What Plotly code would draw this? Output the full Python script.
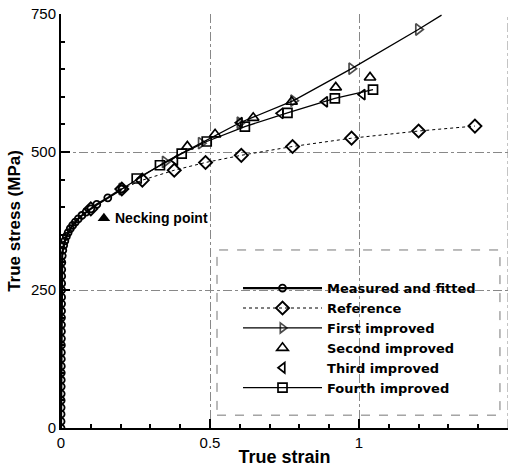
import plotly.graph_objects as go

# ---------------- data ----------------
meas_strain = [0.0, 0.0001, 0.0002, 0.0003, 0.0004, 0.0005, 0.0006, 0.0007, 0.0008,
               0.0009, 0.001, 0.0011, 0.0012, 0.0013, 0.0014, 0.0015, 0.0016, 0.0017,
               0.0018, 0.0019, 0.002, 0.0021, 0.0022, 0.0024, 0.0027, 0.004, 0.006,
               0.009, 0.013, 0.018, 0.024, 0.031, 0.039, 0.048, 0.058, 0.07, 0.084,
               0.1, 0.12, 0.157, 0.204]
meas_stress = [0, 12, 25, 37, 50, 62, 75, 87, 100, 112, 125, 137, 150, 162, 175, 187,
               200, 212, 225, 237, 250, 262, 275, 287, 300, 312, 322, 331, 339, 347,
               354, 361, 367, 373, 379, 385, 391, 397, 405, 417, 433]

ref_strain = [0.1, 0.204, 0.273, 0.38, 0.485, 0.605, 0.777, 0.975, 1.2, 1.389]
ref_stress = [397, 433, 449, 467, 481, 494, 510, 525, 538, 547]

first_strain = [0.204, 0.349, 0.47, 0.6, 0.78, 0.975, 1.199, 1.277]
first_stress = [433, 482, 516, 553, 593, 651, 722, 748]
first_msize = [10, 10, 10, 10, 10, 10, 10, 0]

second_strain = [0.424, 0.517, 0.645, 0.774, 0.922, 1.037]
second_stress = [510, 532, 562, 591, 617, 635]

third_strain = [0.383, 0.6, 0.737, 0.886, 1.012]
third_stress = [485, 553, 570, 591, 604]

fourth_strain = [0.254, 0.332, 0.405, 0.489, 0.617, 0.76, 0.919, 1.047]
fourth_stress = [452, 476, 497, 519, 546, 571, 597, 613]

necking_strain = [0.144]
necking_stress = [380]

x_ticks = [0, 0.5, 1, 1.5]
x_labels = ["0", "0.5", "1", "1.5"]
y_ticks = [0, 250, 500, 750]
y_labels = ["0", "250", "500", "750"]

FONT = "Liberation Sans, Arial, sans-serif"
LEG_FONT = "DejaVu Sans, Liberation Sans, sans-serif"

fig = go.Figure()

fig.add_trace(go.Scatter(
    x=meas_strain, y=meas_stress, mode="lines+markers", name="<b>Measured and fitted</b>",
    line=dict(color="black", width=2.2),
    marker=dict(symbol="circle-open", size=7, color="black", line=dict(width=1.8))))

fig.add_trace(go.Scatter(
    x=ref_strain, y=ref_stress, mode="lines+markers", name="<b>Reference</b>",
    line=dict(color="black", width=1, dash="dot"),
    marker=dict(symbol="diamond-open", size=10, color="black", line=dict(width=1.9))))

fig.add_trace(go.Scatter(
    x=first_strain, y=first_stress, mode="lines+markers", name="<b>First improved</b>",
    line=dict(color="black", width=1.3),
    marker=dict(symbol="triangle-right-open", size=first_msize, color="black",
                line=dict(width=1.7))))

fig.add_trace(go.Scatter(
    x=second_strain, y=second_stress, mode="markers", name="<b>Second improved</b>",
    marker=dict(symbol="triangle-up-open", size=10, color="black", line=dict(width=1.7))))

fig.add_trace(go.Scatter(
    x=third_strain, y=third_stress, mode="markers", name="<b>Third improved</b>",
    marker=dict(symbol="triangle-left-open", size=9, color="black", line=dict(width=1.7))))

fig.add_trace(go.Scatter(
    x=fourth_strain, y=fourth_stress, mode="lines+markers", name="<b>Fourth improved</b>",
    line=dict(color="black", width=1.3),
    marker=dict(symbol="square-open", size=9, color="black", line=dict(width=1.7))))

fig.add_trace(go.Scatter(
    x=necking_strain, y=necking_stress, mode="markers", showlegend=False,
    marker=dict(symbol="triangle-up", size=11, color="black")))

fig.add_annotation(x=0.174, y=380, xref="x", yref="y", text="<b>Necking point</b>",
                   showarrow=False, xanchor="left", yanchor="middle",
                   font=dict(family=FONT, size=14, color="black"))

# legend frame (dashed)
fig.add_shape(type="rect", xref="paper", yref="paper", x0=0.349, x1=0.982, y0=0.031, y1=0.430,
              line=dict(color="#777", width=1, dash="dash"), fillcolor="white", layer="below")
# right frame edge (dash-dot, like the grid)
fig.add_shape(type="line", xref="x", yref="paper", x0=1.5, x1=1.5, y0=0, y1=1,
              line=dict(color="#888", width=1, dash="dashdot"), layer="below")

axis_common = dict(
    showline=True, linecolor="black", linewidth=2, ticks="inside", ticklen=9,
    tickwidth=1.5, tickcolor="black", showgrid=True, gridcolor="#888", gridwidth=1,
    griddash="dashdot", zeroline=False, automargin=False,
    tickfont=dict(family=FONT, size=15, color="black"),
)

fig.update_xaxes(range=[0, 1.5], tickvals=x_ticks, ticktext=x_labels,
                 minor=dict(dtick=0.1, ticks="inside", ticklen=4, tickcolor="black",
                            showgrid=False),
                 title=dict(text="<b>True strain</b>", standoff=0,
                            font=dict(family=FONT, size=18, color="black")),
                 **axis_common)
fig.update_yaxes(range=[0, 750], tickvals=y_ticks, ticktext=y_labels,
                 minor=dict(dtick=50, ticks="inside", ticklen=4, tickcolor="black",
                            showgrid=False),
                 title=dict(text="<b>True stress (MPa)</b>", standoff=6,
                            font=dict(family=FONT, size=17, color="black")),
                 **axis_common)

fig.update_layout(
    width=518, height=472,
    margin=dict(l=61, r=10, t=14, b=44),
    paper_bgcolor="white", plot_bgcolor="white",
    font=dict(family=FONT, color="black"),
    legend=dict(x=0.396, y=0.374, xanchor="left", yanchor="top",
                bgcolor="rgba(0,0,0,0)", borderwidth=0, itemwidth=79,
                tracegroupgap=0,
                font=dict(family=LEG_FONT, size=13, color="black"),
                itemclick=False),
    showlegend=True,
)

fig.write_html("out.html")
